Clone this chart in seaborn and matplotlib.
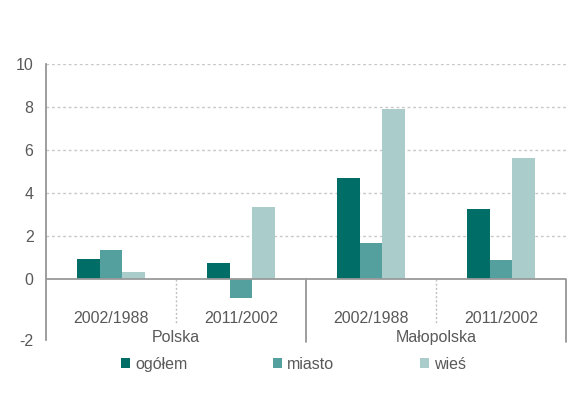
import matplotlib
matplotlib.use('Agg')
import matplotlib.pyplot as plt
import seaborn as sns
import pandas as pd

# values
regions = ['Polska', 'Polska', 'Małopolska', 'Małopolska']
periods = ['2002/1988', '2011/2002', '2002/1988', '2011/2002']
series = ['ogółem', 'miasto', 'wieś']
ogolem = [0.93, 0.74, 4.68, 3.24]
miasto = [1.35, -0.88, 1.67, 0.88]
wies = [0.33, 3.33, 7.92, 5.65]
y_ticks = [0, 2, 4, 6, 8, 10]

colors = ['#006d66', '#53a09f', '#aacdcc']
text_color = '#595959'

sns.set_style('white')
plt.rcParams['font.family'] = ['Liberation Sans', 'DejaVu Sans']
fs = 11.5

cats = [r + ' ' + p for r, p in zip(regions, periods)]
rows = []
for name, vals in zip(series, [ogolem, miasto, wies]):
    for c, v in zip(cats, vals):
        rows.append({'kategoria': c, 'seria': name, 'wartosc': v})
df = pd.DataFrame(rows)

fig = plt.figure(figsize=(5.81, 4.05), dpi=100)
ax = fig.add_axes([0.0792, 0.1605, 0.895, 0.6815])

sns.barplot(data=df, x='kategoria', y='wartosc', hue='seria', order=cats,
            hue_order=series, palette=colors, width=0.52, saturation=1,
            errorbar=None, linewidth=0, ax=ax)

y_bottom = -2.83
ax.set_xlim(-0.5, 3.5)
ax.set_ylim(y_bottom, 10)

# grid lines
for t in y_ticks[1:]:
    ax.axhline(t, color='#c8c8c8', lw=1, ls=(0, (2, 2)), zorder=0)
ax.axhline(0, color='#9a9a9a', lw=1.3, zorder=3)

for s in ['top', 'right', 'bottom']:
    ax.spines[s].set_visible(False)
ax.spines['left'].set_color('#8c8c8c')
ax.spines['left'].set_linewidth(1.2)

ax.set_yticks([y_bottom] + y_ticks)
ax.set_yticklabels(['-2'] + [str(t) for t in y_ticks])
ax.tick_params(axis='y', length=0, pad=9, labelsize=fs, labelcolor=text_color)
ax.set_xticks([])
ax.set_xlabel('')
ax.set_ylabel('')

# category labels and separators
for i, p in enumerate(periods):
    ax.text(i, -1.85, p, ha='center', va='center', fontsize=fs, color=text_color)
ax.text(0.5, -2.72, 'Polska', ha='center', va='center', fontsize=fs, color=text_color, clip_on=False)
ax.text(2.5, -2.72, 'Małopolska', ha='center', va='center', fontsize=fs, color=text_color, clip_on=False)
for x in [0.5, 2.5]:
    ax.plot([x, x], [0, -2.1], color='#c0c0c0', lw=1, ls=(0, (1.5, 1.5)), zorder=1)
for x in [1.5, 3.5]:
    ax.plot([x, x], [0, -2.9], color='#8c8c8c', lw=1.2, clip_on=False, zorder=1)

sns.move_legend(ax, 'center', bbox_to_anchor=(0.476, -0.087), ncol=3, frameon=False,
                title=None, fontsize=fs, handlelength=0.55, handleheight=0.55,
                handletextpad=0.35, columnspacing=5.35, labelcolor=text_color)

fig.savefig('out.png', dpi=100)
